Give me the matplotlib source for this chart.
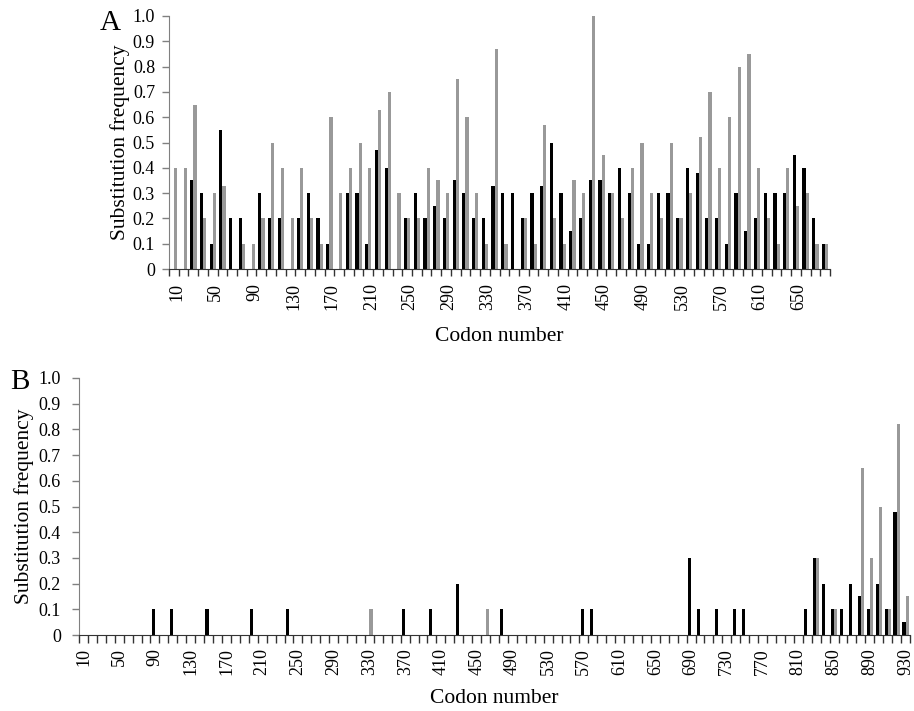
import matplotlib
matplotlib.use("Agg")
import matplotlib.pyplot as plt
import matplotlib.transforms as mtransforms
import numpy as np

# ---------------- data ----------------
# Panel A: codon bins 10..680
codons_a = list(range(10, 690, 10))
black_a = [0, 0, 0.35, 0.3, 0.1, 0.55, 0.2, 0.2, 0, 0.3,
           0.2, 0.2, 0, 0.2, 0.3, 0.2, 0.1, 0, 0.3, 0.3,
           0.1, 0.47, 0.4, 0, 0.2, 0.3, 0.2, 0.25, 0.2, 0.35,
           0.3, 0.2, 0.2, 0.33, 0.3, 0.3, 0.2, 0.3, 0.33, 0.5,
           0.3, 0.15, 0.2, 0.35, 0.35, 0.3, 0.4, 0.3, 0.1, 0.1,
           0.3, 0.3, 0.2, 0.4, 0.38, 0.2, 0.2, 0.1, 0.3, 0.15,
           0.2, 0.3, 0.3, 0.3, 0.45, 0.4, 0.2, 0.1]
gray_a = [0.4, 0.4, 0.65, 0.2, 0.3, 0.33, 0, 0.1, 0.1, 0.2,
          0.5, 0.4, 0.2, 0.4, 0.2, 0.1, 0.6, 0.3, 0.4, 0.5,
          0.4, 0.63, 0.7, 0.3, 0.2, 0.2, 0.4, 0.35, 0.3, 0.75,
          0.6, 0.3, 0.1, 0.87, 0.1, 0, 0.2, 0.1, 0.57, 0.2,
          0.1, 0.35, 0.3, 1.0, 0.45, 0.3, 0.2, 0.4, 0.5, 0.3,
          0.2, 0.5, 0.2, 0.3, 0.52, 0.7, 0.4, 0.6, 0.8, 0.85,
          0.4, 0.2, 0.1, 0.4, 0.25, 0.3, 0.1, 0.1]

# Panel B: codon bins 10..930 (sparse non-zero values)
codons_b = list(range(10, 940, 10))
black_b_codons = [90, 110, 150, 200, 240, 370, 400, 430, 480, 570, 580,
                  690, 700, 720, 740, 750, 820, 830, 840, 850, 860, 870,
                  880, 890, 900, 910, 920, 930]
black_b_values = [0.1, 0.1, 0.1, 0.1, 0.1, 0.1, 0.1, 0.2, 0.1, 0.1, 0.1,
                  0.3, 0.1, 0.1, 0.1, 0.1, 0.1, 0.3, 0.2, 0.1, 0.1, 0.2,
                  0.15, 0.1, 0.2, 0.1, 0.48, 0.05]
gray_b_codons = [330, 460, 830, 850, 880, 890, 900, 910, 920, 930]
gray_b_values = [0.1, 0.1, 0.3, 0.1, 0.65, 0.3, 0.5, 0.1, 0.82, 0.15]

yticks = [0, 0.1, 0.2, 0.3, 0.4, 0.5, 0.6, 0.7, 0.8, 0.9, 1.0]
ytick_labels = ["0", "0.1", "0.2", "0.3", "0.4", "0.5", "0.6", "0.7", "0.8", "0.9", "1.0"]

# ---------------- style ----------------
plt.rcParams['font.family'] = ['Liberation Serif', 'DejaVu Serif']
GRAY = '#999999'
BLACK = '#000000'
TICK_FS = 13

fig = plt.figure(figsize=(9.14, 7.11), dpi=100)

def build(codons, pairs):
    full = np.zeros(len(codons))
    idx = {c: i for i, c in enumerate(codons)}
    for c, v in pairs:
        full[idx[c]] = v
    return full

black_b = build(codons_b, zip(black_b_codons, black_b_values))
gray_b = build(codons_b, zip(gray_b_codons, gray_b_values))


def style_axes(ax, codons, ylab_pad, xtick_pad, ticklen, xoff):
    n = len(codons)
    ax.set_xlim(-0.5, n - 0.5)
    ax.set_ylim(0, 1.0)
    for s in ('top', 'right'):
        ax.spines[s].set_visible(False)
    ax.spines['left'].set_color('#808080')
    ax.spines['bottom'].set_color('#333333')
    ax.set_yticks(yticks)
    ax.set_yticklabels(ytick_labels)
    ax.tick_params(axis='y', direction='out', length=5, width=1, color='#808080',
                   labelsize=TICK_FS, pad=ylab_pad)
    lab_pos = np.arange(0, n, 4)
    ax.set_xticks(lab_pos)
    ax.set_xticklabels([str(codons[i]) for i in lab_pos], rotation=90)
    ax.set_xticks(np.arange(-0.5, n, 1.0), minor=True)
    ax.tick_params(axis='x', which='major', length=0, labelsize=TICK_FS, pad=xtick_pad)
    ax.tick_params(axis='x', which='minor', direction='out', length=ticklen,
                   width=1, color='#333333')
    if xoff:
        off = mtransforms.ScaledTranslation(xoff/100, 0, fig.dpi_scale_trans)
        for lab in ax.get_xticklabels():
            lab.set_transform(lab.get_transform() + off)


# Panel A
axA = fig.add_axes([169/914, 1 - 269/711, (830-169)/914, (269-16)/711])
xa = np.arange(len(codons_a))
wa = 0.33
axA.bar(xa - wa/2, black_a, width=wa, color=BLACK, linewidth=0)
axA.bar(xa + wa/2, gray_a, width=wa, color=GRAY, linewidth=0)
style_axes(axA, codons_a, ylab_pad=5, xtick_pad=10, ticklen=5, xoff=3)
axA.set_ylabel("Substitution frequency", fontsize=15.5, labelpad=2)
axA.set_xlabel("Codon number", fontsize=15.5, labelpad=12)
fig.text(100/914, 1 - 30/711, "A", fontsize=21, ha='left', va='baseline')

# Panel B
axB = fig.add_axes([79/914, 1 - 635/711, (910-79)/914, (635-378)/711])
xb = np.arange(len(codons_b))
wb = 0.35
axB.bar(xb - wb/2, black_b, width=wb, color=BLACK, linewidth=0)
axB.bar(xb + wb/2, gray_b, width=wb, color=GRAY, linewidth=0)
style_axes(axB, codons_b, ylab_pad=8, xtick_pad=9.5, ticklen=6, xoff=0)
axB.set_ylabel("Substitution frequency", fontsize=15.5, labelpad=3)
axB.set_xlabel("Codon number", fontsize=15.5, labelpad=10)
fig.text(10/914, 1 - 389/711, "B", fontsize=21, ha='left', va='baseline')

fig.savefig("out.png", dpi=100)
